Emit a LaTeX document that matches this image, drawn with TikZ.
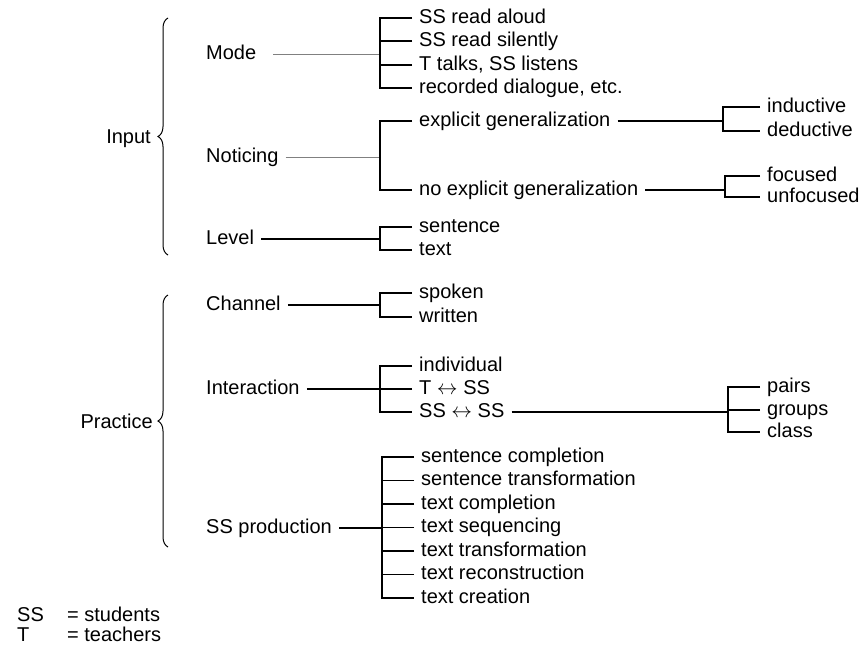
\documentclass[tikz,border=0pt]{standalone}
\usepackage{fontspec}
\setmainfont{Liberation Sans}
\usepackage{tikz}
\usetikzlibrary{decorations.pathreplacing}
\tikzset{
	item/.style={anchor=west, inner xsep=7pt, inner ysep=0pt,
		text height=14pt, text depth=4pt, font=\fontsize{20}{24}\selectfont},
	faint/.style={gray, line width=1pt},
	fork/.style={line width=1.3pt},
	curly/.style={decorate, decoration={brace, amplitude=10pt}, line width=1pt},
}

\begin{document}
\begin{tikzpicture}[x=1pt, y=-1pt]
\useasboundingbox (0,0) rectangle (861,646);

% the main groups
\node[item, anchor=east] (input) at (158,138) {Input};
\node[item, anchor=east] (prac) at (160,423) {Practice};
\draw[curly] (168,255) -- (168,18);
\draw[curly] (168,547) -- (168,295);

% the categories
\node[item] (mode) at (199,54) {Mode};
\node[item] (notice) at (199,157) {Noticing};
\node[item] (level) at (199,239) {Level};
\node[item] (chan) at (199,305) {Channel};
\node[item] (inter) at (199,389) {Interaction};
\node[item] (prod) at (199,528) {SS production};

% the joints
\coordinate (jmode) at (380,54);
\coordinate (jnotice) at (380,157);
\coordinate (jlevel) at (380,239);
\coordinate (jchan) at (380,305);
\coordinate (jinter) at (380,389);
\coordinate (jprod) at (382,528);
\coordinate (jexpl) at (723,121);
\coordinate (jnoexpl) at (725,190);
\coordinate (jss) at (728,412);

% the leaves
\node[item] (m1) at (412,18) {SS read aloud};
\node[item] (m2) at (412,41) {SS read silently};
\node[item] (m3) at (412,65) {T talks, SS listens};
\node[item] (m4) at (412,88) {recorded dialogue, etc.};
\node[item] (expl) at (412,121) {explicit generalization};
\node[item] (noexpl) at (412,190) {no explicit generalization};
\node[item] (induct) at (760,107) {inductive};
\node[item] (deduct) at (760,131) {deductive};
\node[item] (focus) at (760,176) {focused};
\node[item] (unfocus) at (760,197) {unfocused};
\node[item] (sent) at (412,227) {sentence};
\node[item] (text) at (412,250) {text};
\node[item] (spoken) at (412,293) {spoken};
\node[item] (written) at (412,317) {written};
\node[item] (indiv) at (412,366) {individual};
\node[item] (tss) at (412,389) {T $\leftrightarrow$ SS};
\node[item] (ssss) at (412,412) {SS $\leftrightarrow$ SS};
\node[item] (pairs) at (760,387) {pairs};
\node[item] (groups) at (760,410) {groups};
\node[item] (class) at (760,432) {class};
\foreach \txt [count=\i] in {sentence completion, sentence transformation,
	text completion, text sequencing, text transformation,
	text reconstruction, text creation}
	\node[item] (p\i) at (414,433.5+23.5*\i) {\txt};

% the lines
\draw[faint] ([xshift=10pt]mode.east) -- (jmode);
\draw[fork] (m1.west) -| (jmode) |- (m4.west);
\draw[fork] (m2.west) -- (m2.west -| jmode);
\draw[fork] (m3.west) -- (m3.west -| jmode);

\draw[faint] (notice.east) -- (jnotice);
\draw[fork] (expl.west) -| (jnotice) |- (noexpl.west);
\draw[fork] (expl.east) -- (jexpl);
\draw[fork] (induct.west) -| (jexpl) |- (deduct.west);
\draw[fork] (noexpl.east) -- (jnoexpl);
\draw[fork] (focus.west) -| (jnoexpl) |- (unfocus.west);

\draw[fork] (level.east) -- (jlevel);
\draw[fork] (sent.west) -| (jlevel) |- (text.west);

\draw[fork] (chan.east) -- (jchan);
\draw[fork] (spoken.west) -| (jchan) |- (written.west);

\draw[fork] (inter.east) -- (jinter);
\draw[fork] (indiv.west) -| (jinter) |- (ssss.west);
\draw[fork] (tss.west) -- (jinter);
\draw[fork] (ssss.east) -- (jss);
\draw[fork] (pairs.west) -| (jss) |- (class.west);
\draw[fork] (groups.west) -- (groups.west -| jss);

\draw[fork] (prod.east) -- (jprod);
\draw[fork] (p1.west) -| (jprod) |- (p7.west);
\foreach \i in {2,...,6}
	\draw[fork] (p\i.west) -- (p\i.west -| jprod);

% the key
\node[item] (key1) at (10,616) {\makebox[50pt][l]{SS}= students};
\node[item] (key2) at (10,636) {\makebox[50pt][l]{T}= teachers};
\end{tikzpicture}
\end{document}
